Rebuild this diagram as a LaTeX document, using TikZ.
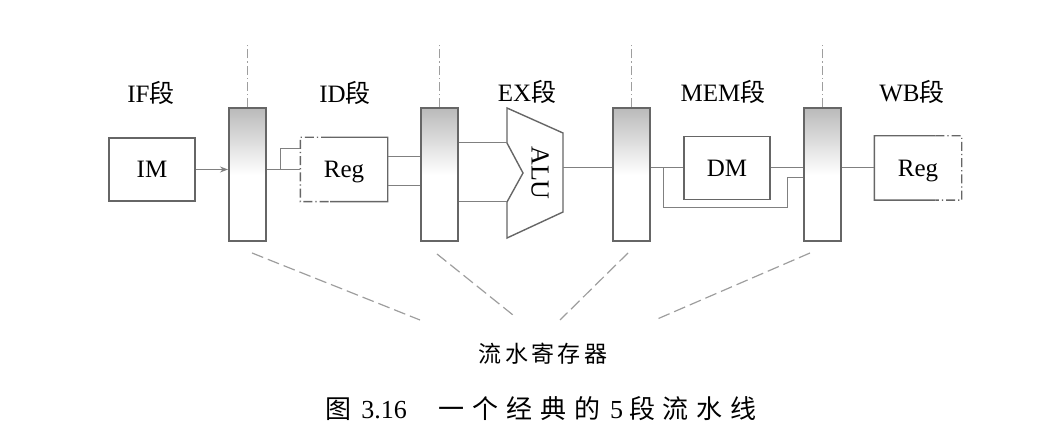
\documentclass[tikz,border=0pt]{standalone}
\usepackage{fontspec}
\setmainfont{Liberation Serif}
\newfontfamily\cjk{Noto Sans CJK SC}
\usetikzlibrary{calc,arrows.meta}
\definecolor{boxgray}{gray}{0.4}
\definecolor{wiregray}{gray}{0.5}
\definecolor{guidegray}{gray}{0.62}
\tikzset{
  unit/.style = {draw=boxgray, line width=0.7pt, minimum width=43pt, minimum height=31.5pt, inner sep=0pt,
    text height=8.3pt, text depth=0pt},
  pipereg/.style = {draw=boxgray, line width=1pt, minimum width=18.5pt, minimum height=66.5pt, inner sep=0pt,
    top color=black!27, bottom color=white, middle color=white},
  boxline/.style = {draw=boxgray, line width=0.7pt},
  wire/.style = {draw=wiregray, line width=0.5pt},
  dashdot/.style = {dash pattern=on 4.5pt off 1.5pt on 0.6pt off 1.5pt},
  guide/.style = {draw=guidegray, line width=0.5pt, dashdot},
  pointer/.style = {draw=guidegray, line width=0.6pt, dash pattern=on 6pt off 2.5pt},
}

\begin{document}
\begin{tikzpicture}[x=0.5pt, y=-0.5pt, font=\fontsize{12.5}{15}\selectfont]
      \useasboundingbox (0,0) rectangle (1062,448);

      % stage names
      \node (ifname)  at (151,93) {IF{\cjk 段}};
      \node (idname)  at (345,93) {ID{\cjk 段}};
      \node (exname)  at (527,92) {EX{\cjk 段}};
      \node (memname) at (723,92) {MEM{\cjk 段}};
      \node (wbname)  at (912,92) {WB{\cjk 段}};

      % pipeline registers
      \foreach \n/\x in {1/247.5, 2/439.5, 3/631, 4/822.5}{
        \node[pipereg] (r\n) at (\x,174.5) {};
        \draw[guide] (r\n.north) -- ++(0,-63);
      }

      % units
      \node[unit] (im) at (152,169.5) {IM};
      \node[unit, draw=none] (idreg) at (344,169.5) {Reg};
      \node[unit] (dm) at (727,168) {DM};
      \node[unit, draw=none] (wbreg) at (918,168) {Reg};

      \draw[boxline] ($(idreg.north west)!0.34!(idreg.north east)$) -- (idreg.north east)
        -- (idreg.south east) -- ($(idreg.south west)!0.34!(idreg.south east)$);
      \draw[boxline, dashdot] ($(idreg.north west)!0.34!(idreg.north east)$) -- (idreg.north west)
        -- (idreg.south west) -- ($(idreg.south west)!0.34!(idreg.south east)$);
      \draw[boxline] ($(wbreg.north west)!0.7!(wbreg.north east)$) -- (wbreg.north west)
        -- (wbreg.south west) -- ($(wbreg.south west)!0.7!(wbreg.south east)$);
      \draw[boxline, dashdot] ($(wbreg.north west)!0.7!(wbreg.north east)$) -- (wbreg.north east)
        -- (wbreg.south east) -- ($(wbreg.south west)!0.7!(wbreg.south east)$);

      % ALU
      \draw[boxline] (507,108) -- (563,133) -- (563,212) -- (507,238) -- (507,202)
        -- (523,173) -- (507,143) -- cycle;
      \node[rotate=-90, font=\fontsize{13}{15}\selectfont] (alu) at (540,173) {ALU};
      \coordinate (aluin1) at (507,143);
      \coordinate (aluin2) at (507,202);
      \coordinate (aluout) at (563,168);

      % wires
      \draw[wire, -{Stealth[length=4pt, width=3pt]}] (im.east) -- (im.east -| r1.west);
      \draw[wire] (r1.east |- idreg.west) -- (idreg.west);
      \coordinate (fork1) at (280,169.5);
      \draw[wire] (fork1) |- ($(idreg.west)+(0,-20.5)$);
      \draw[wire] ($(idreg.east)+(0,-12.5)$) coordinate (idout1) -- (idout1 -| r2.west);
      \draw[wire] ($(idreg.east)+(0,16.5)$) coordinate (idout2) -- (idout2 -| r2.west);
      \draw[wire] (r2.east |- aluin1) -- (aluin1);
      \draw[wire] (r2.east |- aluin2) -- (aluin2);
      \draw[wire] (aluout) -- (aluout -| r3.west);
      \draw[wire] (r3.east |- dm.west) -- (dm.west);
      \draw[wire] (dm.east) -- (dm.east -| r4.west);
      \coordinate (fork2) at (663,168);
      \coordinate (bypass) at (787,208);
      \draw[wire] (fork2) |- (bypass) |- ($(r4.west)+(0,3.5)$);
      \draw[wire] (r4.east |- wbreg.west) -- (wbreg.west);

      % label
      \node (plabel) at (543,354) {\cjk\fontsize{11.5}{14}\selectfont\addfontfeature{LetterSpace=15}流水寄存器};
      \coordinate (p1) at (420,320);
      \coordinate (p2) at (513,315);
      \coordinate (p3) at (560,320);
      \coordinate (p4) at (655,320);
      \draw[pointer] ($(r1.south)+(4.5,11)$) -- (p1);
      \draw[pointer] ($(r2.south)+(-2.5,12)$) -- (p2);
      \draw[pointer] ($(r3.south)+(-3,11)$) -- (p3);
      \draw[pointer] ($(r4.south)+(-12.5,11)$) -- (p4);

      \node[font=\fontsize{13}{16}\selectfont] (caption) at (541,409) {{\cjk\addfontfeature{LetterSpace=30}图}\hspace{5pt}3.16\hspace{16pt}{\cjk\addfontfeature{LetterSpace=30}一个经典的}\hspace{5pt}5\hspace{3pt}{\cjk\addfontfeature{LetterSpace=30}段流水线}};
\end{tikzpicture}
\end{document}
